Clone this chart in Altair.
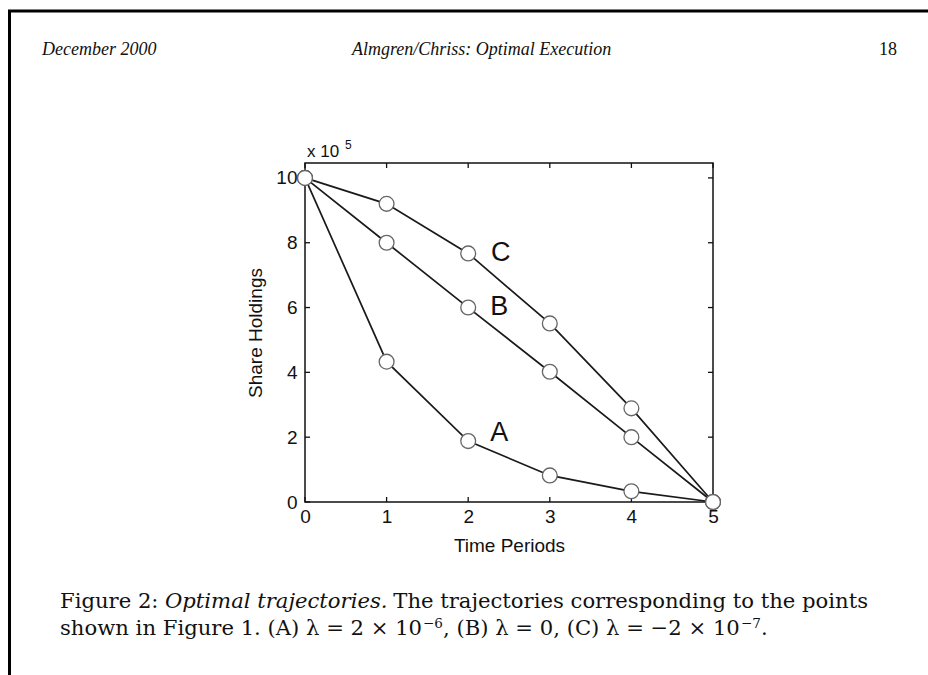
import altair as alt
import pandas as pd

# ---- data (values in units of 1e5 shares) ----
periods = [0, 1, 2, 3, 4, 5]
holdings_A = [10.0, 4.33, 1.88, 0.82, 0.33, 0.0]
holdings_B = [10.0, 8.0, 6.0, 4.02, 2.0, 0.0]
holdings_C = [10.0, 9.2, 7.67, 5.51, 2.89, 0.0]
series_names = ["A", "B", "C"]
label_x = [2.38, 2.38, 2.4]
label_y = [2.13, 6.02, 7.69]
x_ticks = [0, 1, 2, 3, 4, 5]
y_ticks = [0, 2, 4, 6, 8, 10]

W, H = 408, 339
PAD_L, PAD_T = 305, 163

rows = []
for name, vals in zip(series_names, [holdings_A, holdings_B, holdings_C]):
    for t, v in zip(periods, vals):
        rows.append({"t": t, "v": v, "s": name})
df = pd.DataFrame(rows)
lab = pd.DataFrame({"x": label_x, "y": label_y, "s": series_names})

xs = alt.Scale(domain=[0, 5], nice=False, zero=False)
ys = alt.Scale(domain=[0, 10.46], nice=False, zero=False)

SANS = "Liberation Sans"
SERIF = "Liberation Serif"
CAP = "DejaVu Serif"

base = alt.Chart(df)
lines = base.mark_line(color="#1a1a1a", strokeWidth=1.7).encode(
    x=alt.X("t:Q", scale=xs, axis=alt.Axis(values=x_ticks, format="d", title="Time Periods",
                                           grid=False, ticks=False, domain=False, labelFlush=False,
                                           labelFont=SANS, labelFontSize=19, labelColor="#111",
                                           labelPadding=5, titleFont=SANS, titleFontSize=19,
                                           titleFontWeight="normal", titleColor="#111",
                                           titlePadding=10)),
    y=alt.Y("v:Q", scale=ys, axis=alt.Axis(values=y_ticks, format="d", title="Share Holdings",
                                           grid=False, ticks=False, domain=False, labelFlush=False,
                                           labelFont=SANS, labelFontSize=19, labelColor="#111",
                                           labelPadding=8, titleFont=SANS, titleFontSize=19,
                                           titleFontWeight="normal", titleColor="#111",
                                           titlePadding=10)),
    detail="s:N",
)
points = base.mark_point(shape="circle", filled=True, fill="white", stroke="#666",
                         strokeWidth=1.3, size=220, opacity=1).encode(
    x=alt.X("t:Q", scale=xs), y=alt.Y("v:Q", scale=ys))

labels = alt.Chart(lab).mark_text(font=SANS, fontSize=27, color="#111",
                                  align="center", baseline="middle").encode(
    x=alt.X("x:Q", scale=xs), y=alt.Y("y:Q", scale=ys), text="s:N")

# inward ticks
xt = pd.DataFrame({"v": x_ticks})
yt = pd.DataFrame({"v": y_ticks})
tick_bot = alt.Chart(xt).mark_rule(color="#111", strokeWidth=1.3).encode(
    x=alt.X("v:Q", scale=xs), y=alt.value(H), y2=alt.value(H - 5))
tick_top = alt.Chart(xt).mark_rule(color="#111", strokeWidth=1.3).encode(
    x=alt.X("v:Q", scale=xs), y=alt.value(0), y2=alt.value(5))
tick_left = alt.Chart(yt).mark_rule(color="#111", strokeWidth=1.3).encode(
    y=alt.Y("v:Q", scale=ys), x=alt.value(0), x2=alt.value(5))
tick_right = alt.Chart(yt).mark_rule(color="#111", strokeWidth=1.3).encode(
    y=alt.Y("v:Q", scale=ys), x=alt.value(W - 5), x2=alt.value(W))


def txt(s, x, y, size, font=SERIF, style="normal", align="left", baseline="alphabetic"):
    return alt.Chart(pd.DataFrame({"t": [s]})).mark_text(
        font=font, fontSize=size, fontStyle=style, color="#111", align=align,
        baseline=baseline).encode(x=alt.value(x), y=alt.value(y), text="t:N")


CS = 21.15          # caption font size
SS = 13.5           # superscript size
L1, L2 = 608 - PAD_T, 635 - PAD_T
annots = [
    txt("x 10", 2, -6, 17, font=SANS),
    txt("5", 40, -14, 12, font=SANS),
    # page header
    txt("December 2000", 42 - PAD_L, 55 - PAD_T, 18, style="italic"),
    txt("Almgren/Chriss: Optimal Execution", 352 - PAD_L, 55 - PAD_T, 18, style="italic"),
    txt("18", 897 - PAD_L, 55 - PAD_T, 18, align="right"),
    # caption line 1
    txt("Figure 2:", 60 - PAD_L, L1, CS, font=CAP),
    txt("Optimal trajectories.", 165 - PAD_L, L1, CS, font=CAP, style="italic"),
    txt("The trajectories corresponding to the points", 868 - PAD_L, L1, CS, font=CAP, align="right"),
    # caption line 2
    txt("shown in Figure 1. (A) \u03bb = 2 \u00d7 10", 60 - PAD_L, L2, CS, font=CAP),
    txt("\u22126", 423 - PAD_L, L2 - 7, SS, font=CAP),
    txt(", (B) \u03bb = 0, (C) \u03bb = \u22122 \u00d7 10", 443 - PAD_L, L2, CS, font=CAP),
    txt("\u22127", 741 - PAD_L, L2 - 7, SS, font=CAP),
    txt(".", 761 - PAD_L, L2, CS, font=CAP),
]

# page frame (top and left border)
frame_top = alt.Chart(pd.DataFrame({"a": [0]})).mark_rule(color="black", strokeWidth=3).encode(
    x=alt.value(8 - PAD_L), x2=alt.value(928 - PAD_L), y=alt.value(11 - PAD_T))
frame_left = alt.Chart(pd.DataFrame({"a": [0]})).mark_rule(color="black", strokeWidth=3).encode(
    x=alt.value(9.5 - PAD_L), y=alt.value(10 - PAD_T), y2=alt.value(675 - PAD_T))

chart = alt.layer(
    tick_bot, tick_top, tick_left, tick_right, lines, points, labels,
    *annots, frame_top, frame_left
).properties(
    width=W, height=H,
    autosize=alt.AutoSizeParams(type="none"),
    padding={"left": PAD_L, "top": PAD_T, "right": 928 - PAD_L - W, "bottom": 675 - PAD_T - H},
    background="white",
).configure_view(stroke="#111", strokeWidth=1.5)

chart.save("out.html", embed_options={"renderer": "svg", "actions": False})
